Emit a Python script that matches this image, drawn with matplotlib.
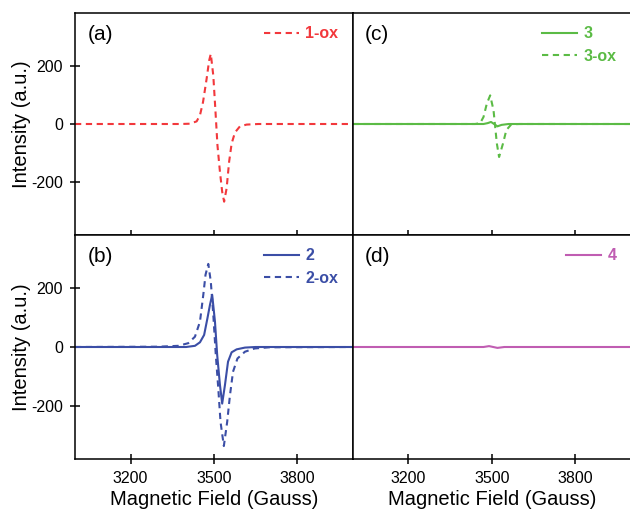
import matplotlib
matplotlib.use("Agg")
import matplotlib.pyplot as plt

plt.rcParams['font.family'] = ['Liberation Sans', 'DejaVu Sans']
plt.rcParams['axes.unicode_minus'] = False

# values (Gauss, a.u.)
x_1ox = [3000, 3380, 3414, 3438, 3450, 3461, 3474, 3483, 3489, 3498, 3506, 3513, 3522,
         3530, 3537, 3546, 3555, 3564, 3576, 3594, 3618, 3660, 4000]
y_1ox = [0, 0, 1, 9, 30, 75, 155, 217, 240, 166, 41, -73, -164,
         -232, -266, -220, -129, -67, -29, -8, -2, 0, 0]

x_2 = [3000, 3400, 3432, 3450, 3465, 3477, 3486, 3494, 3504, 3512, 3522, 3530, 3540,
       3551, 3564, 3582, 3612, 3650, 4000]
y_2 = [0, 0, 4, 16, 41, 98, 143, 177, 86, -27, -129, -192, -129,
       -50, -18, -8, -2, 0, 0]

x_2ox = [3000, 3300, 3372, 3408, 3432, 3450, 3462, 3470, 3480, 3489, 3498, 3507, 3516,
         3524, 3536, 3548, 3558, 3569, 3585, 3612, 3647, 3700, 4000]
y_2ox = [0, 1, 4, 13, 35, 86, 177, 245, 282, 222, 109, -27, -141,
         -254, -336, -254, -164, -84, -39, -16, -5, -1, 0]

x_3 = [3000, 3470, 3485, 3497, 3508, 3520, 3535, 3560, 4000]
y_3 = [0, 0, 3, 7, 0, -8, -3, 0, 0]

x_3ox = [3000, 3440, 3458, 3470, 3482, 3494, 3506, 3512, 3518, 3526, 3540, 3552, 3570,
         3600, 4000]
y_3ox = [0, 0, 3, 24, 70, 98, 47, -10, -67, -113, -67, -21, -1, 0, 0]

x_4 = [3000, 3470, 3490, 3505, 3520, 3545, 4000]
y_4 = [0, 0, 3, 0, -3, 0, 0]

red = '#f2383c'
blue = '#3b4ea6'
green = '#5bbb45'
purple = '#c05db2'

W, H = 630, 509
fig = plt.figure(figsize=(W / 100, H / 100), dpi=100)

lx, mx, rx = 75 / W, 352.7 / W, 631 / W
ty, my, by = 1 - 13 / H, 1 - 235 / H, 1 - 459 / H

ax_a = fig.add_axes([lx, my, mx - lx, ty - my])
ax_c = fig.add_axes([mx, my, rx - mx, ty - my])
ax_b = fig.add_axes([lx, by, mx - lx, my - by])
ax_d = fig.add_axes([mx, by, rx - mx, my - by])

dash = (0, (3, 2.2))
lw = 1.5

ax_a.plot(x_1ox, y_1ox, color=red, lw=lw, ls=dash, label='1-ox')
ax_b.plot(x_2, y_2, color=blue, lw=lw, label='2')
ax_b.plot(x_2ox, y_2ox, color=blue, lw=lw, ls=dash, label='2-ox')
ax_c.plot(x_3, y_3, color=green, lw=lw, label='3')
ax_c.plot(x_3ox, y_3ox, color=green, lw=lw, ls=dash, label='3-ox')
ax_d.plot(x_4, y_4, color=purple, lw=lw, label='4')

for ax, tag in [(ax_a, '(a)'), (ax_b, '(b)'), (ax_c, '(c)'), (ax_d, '(d)')]:
    ax.set_xlim(3000, 4000)
    ax.set_ylim(-380, 380)
    ax.set_xticks([3200, 3500, 3800])
    ax.set_yticks([-200, 0, 200])
    for s in ax.spines.values():
        s.set_linewidth(1.1)
    ax.tick_params(axis='both', direction='inout', length=7, width=1.1,
                   labelsize=11.5, pad=5)
    ax.text(0.045, 0.905, tag, transform=ax.transAxes, fontsize=15,
            va='center', ha='left')
    ax.legend(loc='upper right', bbox_to_anchor=(0.948, 0.94),
              frameon=False, handlelength=2.2, handletextpad=0.4,
              borderaxespad=0, borderpad=0, labelspacing=0.45,
              labelcolor='linecolor',
              prop={'weight': 'bold', 'size': 11.5})

for ax in [ax_a, ax_c]:
    ax.tick_params(axis='x', labelbottom=False)
for ax in [ax_c, ax_d]:
    ax.tick_params(axis='y', left=False, labelleft=False)
for ax in [ax_b, ax_d]:
    ax.set_xlabel('Magnetic Field (Gauss)', fontsize=14.5, labelpad=3)
for ax in [ax_a, ax_b]:
    ax.set_ylabel('Intensity (a.u.)', fontsize=14.5, labelpad=0)

fig.savefig('out.png', dpi=100)
